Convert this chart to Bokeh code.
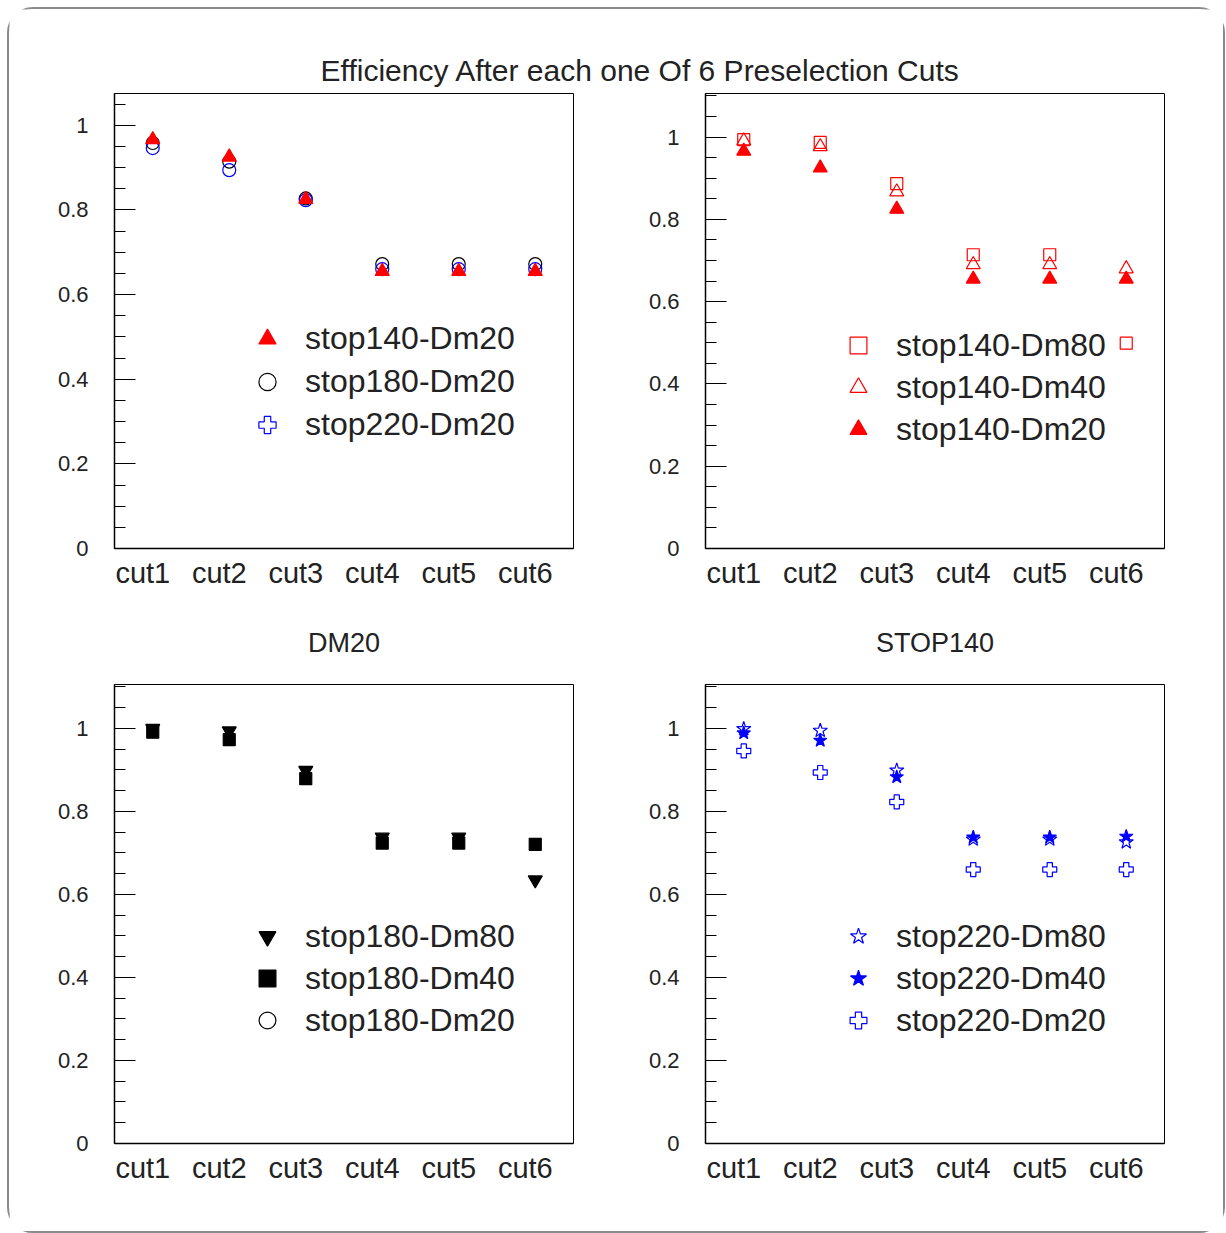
from bokeh.plotting import figure
from bokeh.models import (ColumnDataSource, Legend, LegendItem, FixedTicker,
                          Label, Range1d)
from bokeh.layouts import column, row
from bokeh.embed import file_html
from bokeh.resources import INLINE

# ---------------- data ----------------
cuts = ["cut1", "cut2", "cut3", "cut4", "cut5", "cut6"]

stop140_dm20 = [0.966, 0.925, 0.825, 0.655, 0.655, 0.655]
stop180_dm20 = [0.958, 0.914, 0.827, 0.672, 0.672, 0.672]
stop220_dm20 = [0.946, 0.894, 0.823, 0.660, 0.660, 0.660]
stop140_dm80 = [0.994, 0.987, 0.887, 0.714, 0.714, 0.499]
stop140_dm40 = [0.991, 0.977, 0.867, 0.690, 0.690, 0.680]
stop180_dm80 = [1.000, 0.994, 0.899, 0.738, 0.738, 0.635]
stop180_dm40 = [0.991, 0.973, 0.879, 0.724, 0.724, 0.721]
stop220_dm80 = [0.999, 0.995, 0.899, 0.733, 0.733, 0.726]
stop220_dm40 = [0.989, 0.971, 0.883, 0.738, 0.738, 0.740]

y_ticks = [0, 0.2, 0.4, 0.6, 0.8, 1.0]
y_tick_labels = ["0", "0.2", "0.4", "0.6", "0.8", "1"]
y_minor = [round(0.05 * i, 2) for i in range(0, 23)]

main_title = "Efficiency After each one Of 6 Preselection Cuts"
title_dm20 = "DM20"
title_stop140 = "STOP140"

FONT = "Liberation Sans"
RED = "#ff0000"
BLUE = "#0000ff"
BLACK = "#000000"
NAN = float("nan")

# bin centres of the cut histogram and the (slightly left-shifted) label anchors
x_pos = [i + 0.5 for i in range(len(cuts))]
x_lab = [round(i + 0.37, 2) for i in range(len(cuts))]

ox, oy = 9, 9
W1 = 591 - ox
W2 = 632
HT = 90 - oy


def make_fig(width, height, left, right, top, bottom, ymax, title=None):
    p = figure(width=width, height=height, x_range=Range1d(0, len(cuts)),
               y_range=Range1d(0, ymax), output_backend="svg",
               toolbar_location=None, min_border_left=left,
               min_border_right=right, min_border_top=top,
               min_border_bottom=bottom)
    p.xgrid.visible = False
    p.ygrid.visible = False
    p.outline_line_color = BLACK
    p.outline_line_width = 1
    p.background_fill_color = "white"
    p.border_fill_color = "white"
    xa = p.xaxis[0]
    xa.ticker = FixedTicker(ticks=x_lab, minor_ticks=[])
    xa.major_label_overrides = {t: c for t, c in zip(x_lab, cuts)}
    xa.major_tick_in = 0
    xa.major_tick_out = 0
    xa.minor_tick_in = 0
    xa.minor_tick_out = 0
    xa.axis_line_color = BLACK
    xa.axis_line_width = 1.5
    xa.major_label_text_font = FONT
    xa.major_label_text_font_size = "29px"
    xa.major_label_text_color = "#222222"
    xa.major_label_standoff = 8
    ya = p.yaxis[0]
    ya.ticker = FixedTicker(ticks=y_ticks, minor_ticks=y_minor)
    ya.major_label_overrides = {t: l for t, l in zip(y_ticks, y_tick_labels)}
    ya.major_tick_in = 21
    ya.major_tick_out = 0
    ya.minor_tick_in = 11
    ya.minor_tick_out = 0
    ya.major_tick_line_color = BLACK
    ya.minor_tick_line_color = BLACK
    ya.axis_line_color = BLACK
    ya.axis_line_width = 1.5
    ya.major_label_text_font = FONT
    ya.major_label_text_font_size = "22px"
    ya.major_label_text_color = "#222222"
    ya.major_label_standoff = 26
    if title is not None:
        p.title.text = title
        p.title.align = "center"
        p.title.text_font = FONT
        p.title.text_font_size = "27px"
        p.title.text_font_style = "normal"
        p.title.text_color = "#222222"
        p.title.standoff = 54
    return p


def pts(p, ys, marker, color, size, filled):
    src = ColumnDataSource(dict(x=x_pos, y=ys))
    return p.scatter(x="x", y="y", source=src, marker=marker, size=size,
                     line_color=color, line_width=1.2,
                     fill_color=color if filled else None)


def legend_only(p, marker, color, size, filled):
    # a series that appears only in the legend (no visible points)
    src = ColumnDataSource(dict(x=[NAN], y=[NAN]))
    return p.scatter(x="x", y="y", source=src, marker=marker, size=size,
                     line_color=color, line_width=1.2,
                     fill_color=color if filled else None)


def add_legend(p, entries, ybot, pitch):
    leg = Legend(items=[LegendItem(label=l, renderers=[r]) for l, r in entries],
                 location=(128, ybot), glyph_width=50, glyph_height=pitch,
                 label_height=pitch, spacing=0, padding=0, margin=0,
                 label_standoff=13, border_line_color=None,
                 background_fill_alpha=0, label_text_font=FONT,
                 label_text_font_size="32px", label_text_color="#222222")
    p.add_layout(leg)


# ---------------- title strip ----------------
strip = figure(width=W1 + W2, height=HT, x_range=Range1d(0, 1), y_range=Range1d(0, 1),
               output_backend="svg", toolbar_location=None,
               x_axis_location=None, y_axis_location=None,
               min_border=0)
strip.xgrid.visible = False
strip.ygrid.visible = False
strip.outline_line_color = None
strip.add_layout(Label(x=640 - ox, y=20, x_units="screen", y_units="screen",
                       text=main_title, text_align="center", text_baseline="middle",
                       text_font=FONT, text_font_size="30px", text_color="#222222"))

# ---------------- panel 1 ----------------
p1 = make_fig(W1, 591 - 90, 114 - ox, W1 - (114 - ox) - 459, 3, 39, 1.075)
r_b = pts(p1, stop180_dm20, "circle", BLACK, 13, False)
pts(p1, stop220_dm20, "circle", BLUE, 13, False)
r_r = pts(p1, stop140_dm20, "triangle", RED, 14, True)
r_p = legend_only(p1, "plus", BLUE, 14, False)
add_legend(p1, [("stop140-Dm20", r_r), ("stop180-Dm20", r_b), ("stop220-Dm20", r_p)], 102, 43)

# ---------------- panel 2 ----------------
p2 = make_fig(W2, 591 - 90, 114, W2 - 114 - 459, 3, 39, 1.106)
r_s = pts(p2, stop140_dm80, "square", RED, 12, False)
r_t = pts(p2, stop140_dm40, "triangle", RED, 14, False)
r_f = pts(p2, stop140_dm20, "triangle", RED, 14, True)
add_legend(p2, [("stop140-Dm80", r_s), ("stop140-Dm40", r_t), ("stop140-Dm20", r_f)], 98, 42)

# ---------------- panel 3 ----------------
HB = 1231 - 591
p3 = make_fig(W1, HB, 114 - ox, W1 - (114 - ox) - 459, 93, HB - 93 - 459, 1.106, title_dm20)
r_sq = pts(p3, stop180_dm40, "square", BLACK, 12, True)
r_it = pts(p3, stop180_dm80, "inverted_triangle", BLACK, 14, True)
r_oc = legend_only(p3, "circle", BLACK, 13, False)
add_legend(p3, [("stop180-Dm80", r_it), ("stop180-Dm40", r_sq), ("stop180-Dm20", r_oc)], 102, 42)

# ---------------- panel 4 ----------------
p4 = make_fig(W2, HB, 114, W2 - 114 - 459, 93, HB - 93 - 459, 1.106, title_stop140)
r_pl = pts(p4, stop220_dm20, "plus", BLUE, 14, False)
r_fs = pts(p4, stop220_dm40, "star", BLUE, 14, True)
r_os = pts(p4, stop220_dm80, "star", BLUE, 15, False)
add_legend(p4, [("stop220-Dm80", r_os), ("stop220-Dm40", r_fs), ("stop220-Dm20", r_pl)], 102, 42)

layout = column(strip, row(p1, p2), row(p3, p4),
                styles={"margin-left": "7px", "margin-top": "7px",
                        "border": "2px solid #8a8a8a",
                        "border-radius": "26px"})

open("out.html", "w").write(file_html(layout, INLINE))
